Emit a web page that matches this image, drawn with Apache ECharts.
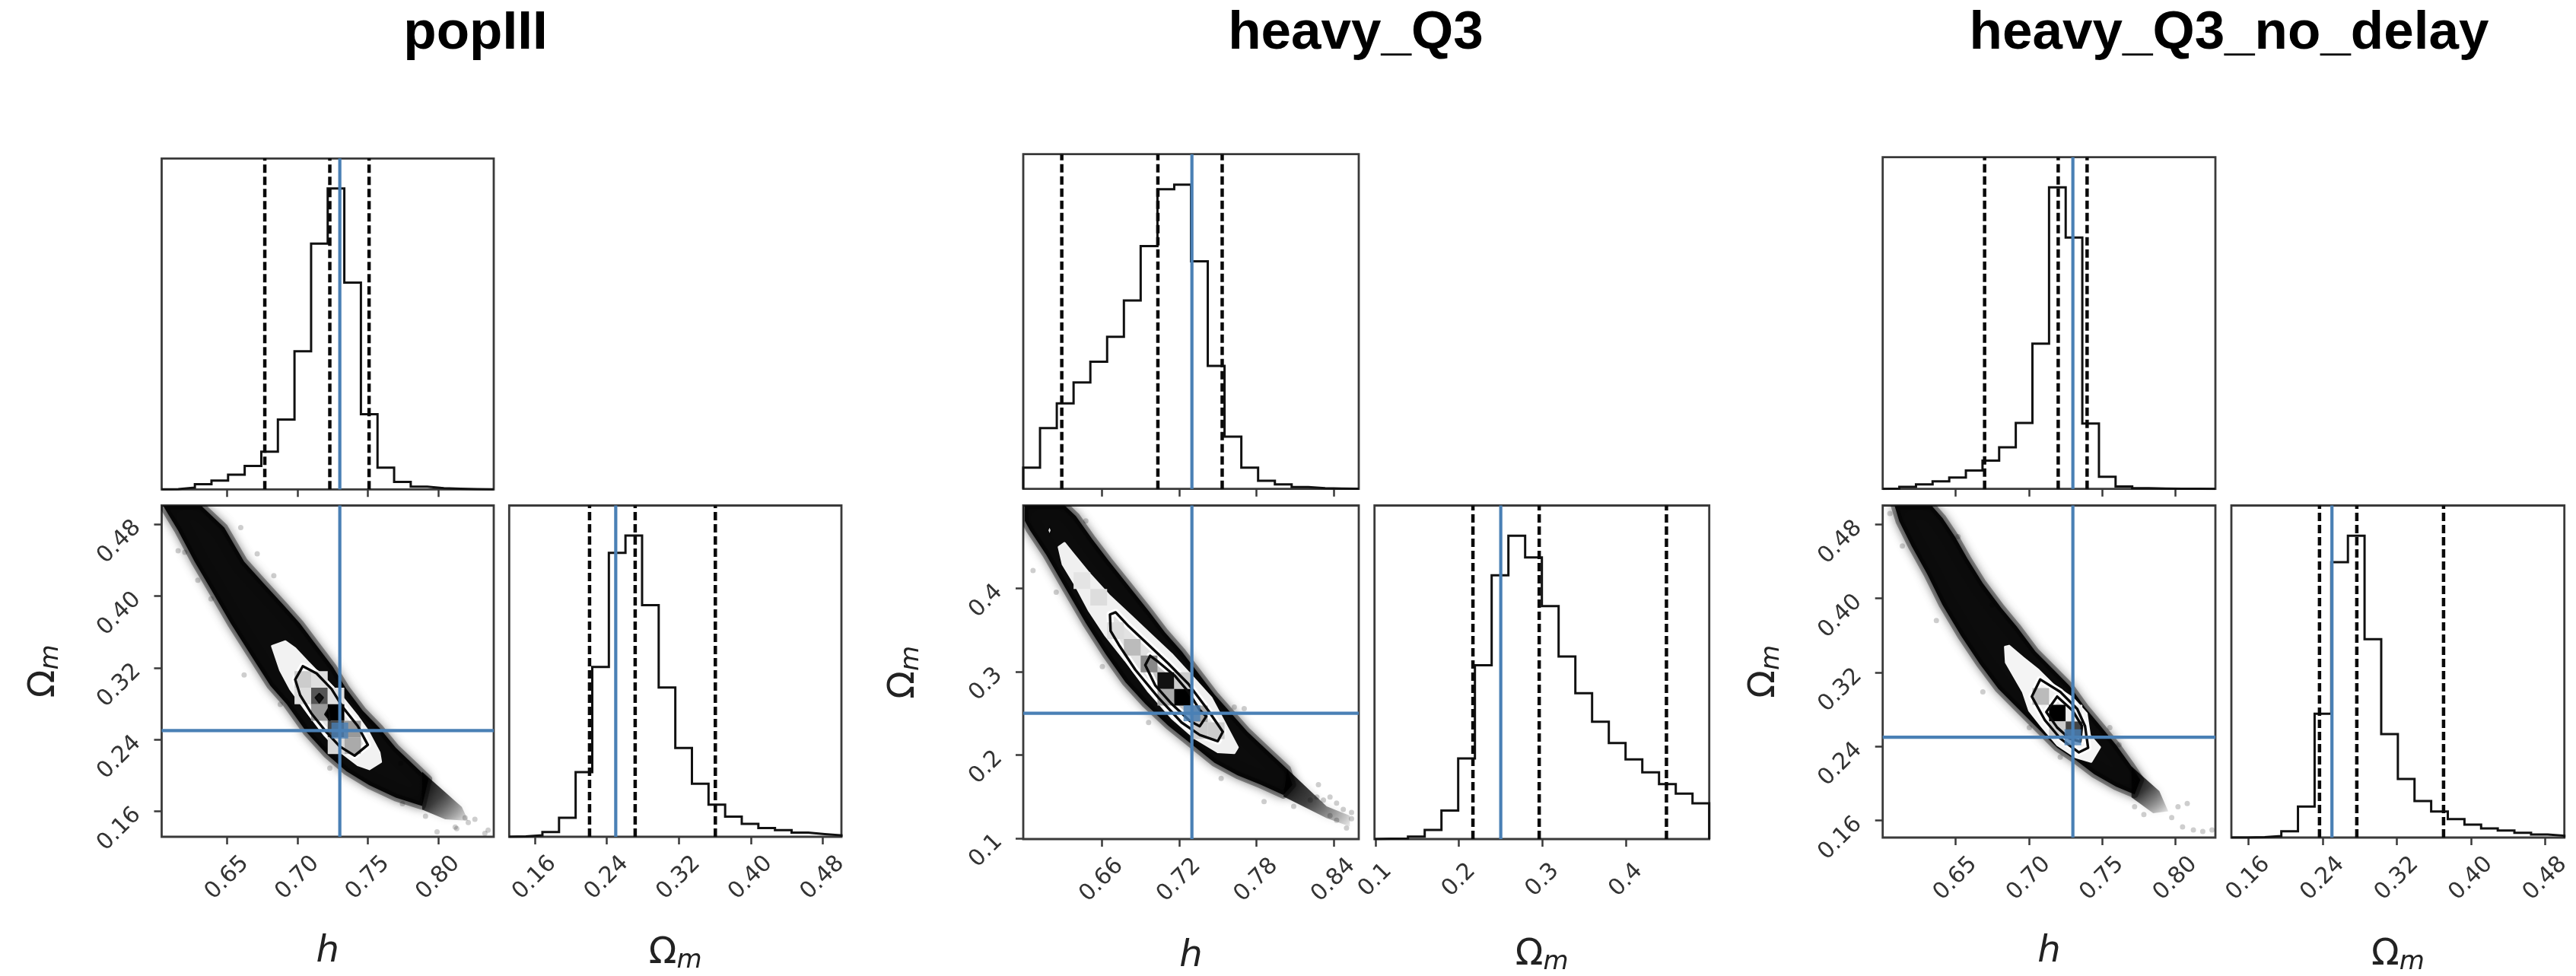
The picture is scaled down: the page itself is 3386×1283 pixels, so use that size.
<!DOCTYPE html>
<html><head><meta charset="utf-8">
<style>html,body{margin:0;padding:0;background:#fff}#c{width:3386px;height:1283px}</style>
<script src="https://cdn.jsdelivr.net/npm/echarts@6/dist/echarts.min.js"></script>
</head><body><div id="c"></div>
<script>
// ---------- data ----------
const titles = ['popIII', 'heavy_Q3', 'heavy_Q3_no_delay'];
const truthH = 0.73, truthOm = 0.25;

const hRange1 = [0.6034, 0.8394], omRange1 = [0.1316, 0.5008];
const hRange2 = [0.5991, 0.8595], omRange2 = [0.0989, 0.4995];
const hRange3 = [0.6003, 0.8272], omRange3 = [0.1416, 0.5005];

const hTicks1 = [0.65, 0.70, 0.75, 0.80], omTicks1 = [0.16, 0.24, 0.32, 0.40, 0.48];
const hTicks2 = [0.66, 0.72, 0.78, 0.84], omTicks2 = [0.1, 0.2, 0.3, 0.4];
const hTicks3 = [0.65, 0.70, 0.75, 0.80], omTicks3 = [0.16, 0.24, 0.32, 0.40, 0.48];

const hHist1 = [0.1,0.6,1.7,2.9,4.9,7.8,12.5,23.2,45.9,81.7,100,68.7,25.0,7.2,2.5,0.9,0.4,0.2,0.05,0];
const omHist1 = [0.1,0.5,1.6,6.3,21.5,56.4,94.3,100,76.9,49.6,29.5,17.6,10.7,6.7,4.3,2.9,2.2,1.4,0.9,0.5];
const hHist2 = [7.0,20.0,28.1,35,41.8,50,61.9,79.8,98.5,100,74.8,40.4,17.2,7.0,2.7,1.5,0.6,0.25,0.1,0.02];
const omHist2 = [0.1,0.2,0.8,3,9.4,26.6,57.3,87,100,92.9,76.8,60.2,48.1,38.7,31.7,26.3,22,18.1,15,11.8];
const hHist3 = [0.1,0.7,1.5,2.5,3.8,6.1,9.4,13.8,21.9,48.2,100,83.4,21.7,4,0.8,0.25,0.1,0.05,0.02,0];
const omHist3 = [0,0.1,0.5,2.1,10.3,41,91.2,100,65.7,34.3,19.4,12.1,8.6,6.1,4.3,3,2.3,1.6,1,0.6];

const hQuant1 = [0.6767, 0.7229, 0.7508], omQuant1 = [0.2209, 0.2716, 0.3607];
const hQuant2 = [0.629, 0.7036, 0.7535],  omQuant2 = [0.2167, 0.296, 0.4483];
const hQuant3 = [0.6698, 0.72, 0.7397],   omQuant3 = [0.2366, 0.2768, 0.3703];

const band1 = [[.6315,.5005],[.6479,.4763],[.6620,.4383],[.6760,.4140],[.6901,.3898],[.7018,.3691],[.7135,.3448],[.7252,.3206],[.7346,.2964],[.7463,.2722],[.7581,.2531],[.7698,.2307],[.7838,.2099],[.7930,.1960],[.7885,.1660],[.7698,.1753],[.7510,.1891],[.7346,.2047],[.7206,.2237],[.7065,.2480],[.6924,.2791],[.6807,.2999],[.6666,.3345],[.6526,.3691],[.6385,.4071],[.6268,.4383],[.6151,.4729],[.6057,.4971],[.6045,.5005]];
const tail1 = [[.7885,.2040],[.8167,.1649],[.8213,.1493],[.8049,.1510],[.7885,.1620]];
const band2 = [[.6311,.4998],[.6400,.4867],[.6528,.4588],[.6656,.4327],[.6810,.4029],[.6964,.3730],[.7092,.3470],[.7220,.3246],[.7348,.2985],[.7476,.2724],[.7604,.2501],[.7732,.2277],[.7886,.2053],[.8040,.1830],[.8080,.1640],[.8010,.1520],[.7834,.1643],[.7655,.1755],[.7476,.1904],[.7297,.2128],[.7117,.2351],[.6938,.2612],[.6784,.2873],[.6631,.3209],[.6477,.3581],[.6323,.3991],[.6170,.4401],[.6042,.4700],[.6003,.4811],[.6003,.4998]];
const tail2 = [[.8040,.1830],[.8346,.1382],[.8526,.1271],[.8526,.1140],[.8346,.1241],[.8010,.1500]];
const band3 = [[.6337,.5003],[.6411,.4869],[.6496,.4668],[.6580,.4433],[.6686,.4164],[.6813,.3896],[.6918,.3695],[.7045,.3426],[.7172,.3225],[.7277,.3057],[.7383,.2823],[.7489,.2621],[.7594,.2420],[.7700,.2185],[.7760,.2040],[.7721,.1883],[.7594,.1967],[.7446,.2101],[.7320,.2252],[.7193,.2387],[.7066,.2588],[.6939,.2789],[.6792,.3024],[.6665,.3292],[.6538,.3594],[.6411,.3930],[.6306,.4265],[.6200,.4567],[.6116,.4835],[.6084,.5003]];
const tail3 = [[.7700,.2185],[.7890,.1917],[.7950,.1700],[.7848,.1680],[.7700,.1850]];

const outer1 = [[.6819,.3441],[.6913,.3493],[.6983,.3414],[.7077,.3258],[.7194,.3068],[.7323,.2860],[.7428,.2653],[.7499,.2497],[.7581,.2255],[.7592,.2151],[.7510,.2071],[.7428,.2116],[.7299,.2272],[.7194,.2445],[.7077,.2687],[.6948,.2964],[.6877,.3172]];
const middle1 = [[.6983,.3068],[.7037,.3217],[.7135,.3137],[.7241,.2964],[.7323,.2756],[.7428,.2549],[.7499,.2341],[.7405,.2220],[.7299,.2324],[.7206,.2480],[.7100,.2687],[.7018,.2895]];
const inner1 = [[.7154,.2912],[.7182,.2867],[.7154,.2808],[.7126,.2867]];
const blob1 = [[.7194,.2680],[.7220,.2749],[.7229,.2611]];

const outer2 = [[.6267,.4495],[.6311,.4543],[.6375,.4420],[.6503,.4178],[.6656,.3917],[.6836,.3656],[.6989,.3432],[.7143,.3209],[.7297,.2948],[.7450,.2687],[.7591,.2277],[.7655,.2091],[.7629,.2024],[.7501,.2035],[.7322,.2202],[.7143,.2445],[.6964,.2761],[.6784,.3134],[.6631,.3432],[.6503,.3730],[.6400,.4029],[.6298,.4290]];
const middle2 = [[.6664,.3686],[.6708,.3712],[.6810,.3544],[.6964,.3321],[.7117,.3097],[.7271,.2855],[.7425,.2538],[.7540,.2277],[.7501,.2165],[.7361,.2240],[.7220,.2389],[.7040,.2687],[.6861,.3022],[.6733,.3321],[.6669,.3488]];
const inner2 = [[.6976,.3190],[.7040,.3116],[.7169,.2948],[.7271,.2761],[.7361,.2538],[.7412,.2463],[.7361,.2344],[.7284,.2407],[.7143,.2612],[.7015,.2836],[.6938,.3078]];
const blob2 = [[.6195,.4750],[.6210,.4697],[.6195,.4640],[.6180,.4697]];

const outer3 = [[.6838,.3477],[.6865,.3487],[.6960,.3359],[.7066,.3225],[.7172,.3057],[.7298,.2923],[.7393,.2756],[.7415,.2521],[.7484,.2393],[.7425,.2236],[.7320,.2286],[.7193,.2420],[.7087,.2621],[.7003,.2789],[.6960,.2990],[.6844,.3309]];
const middle3 = [[.7077,.3125],[.7214,.2990],[.7330,.2806],[.7383,.2621],[.7404,.2387],[.7341,.2336],[.7214,.2487],[.7108,.2688],[.7020,.2940]];
const inner3 = [[.7193,.2940],[.7298,.2789],[.7362,.2621],[.7351,.2454],[.7277,.2487],[.7193,.2605],[.7119,.2772]];

// [h bin, Omega bin, grey level] of the visible 2D histogram cells (20 x 20 bins)
const cells1 = [[8,9,204],[9,9,223],[9,8,85],[10,8,224],[8,8,221],[9,7,153],[10,7,0],[10,6,68],[11,6,153],[11,5,170],[10,5,216]];
const cells2 = [[3,15,228],[4,14,221],[5,12,221],[6,11,187],[7,10,136],[8,9,17],[9,9,204],[8,8,170],[9,8,0],[10,7,170],[10,6,204],[11,6,204]];
const cells3 = [[9,8,187],[10,7,0],[10,6,204],[11,6,68],[11,7,238]];

const strays1 = [[.8120,.1424],[.8131,.1407],[.8260,.1511],[.8354,.1390],[.8331,.1355],[.7991,.1372],[.8190,.1528],[.8213,.1476],[.7909,.1545],[.7745,.1684],[.7229,.2082],[.6877,.2791],[.6620,.3120],[.6385,.3967],[.6291,.4175],[.6198,.4486],[.6151,.4504],[.6596,.4763],[.6713,.4469],[.6831,.4227],[.7733,.2134]];
const strays2 = [[.8282,.1643],[.8539,.1308],[.8500,.1122],[.8423,.1420],[.8372,.1494],[.7860,.1438],[.7629,.2575],[.7706,.2556],[.7527,.1718],[.6964,.2389],[.6605,.3060],[.6247,.3954],[.6067,.4215],[.6477,.4811],[.8090,.1382],[.8270,.1494],[.8321,.1457],[.8475,.1345],[.8539,.1233],[.8423,.1215],[.8372,.1271],[.8219,.1457]];
const strays3 = [[.8017,.1749],[.8080,.1783],[.7974,.1632],[.8048,.1531],[.8122,.1498],[.8186,.1481],[.8249,.1498],[.7784,.1665],[.7721,.1749],[.7552,.2605],[.7615,.2420],[.7003,.2605],[.6686,.2990],[.6369,.3762],[.6137,.4567],[.6052,.4919],[.6517,.4668],[.6749,.3930],[.7214,.2286]];

// ---------- layout and styles ----------
const BLUE = '#4a80b5', FRAME = '#3a3a3a', TXT = '#333';
const FONT = '"DejaVu Sans"';
const frames = [
  {top:[212.5,208.3,436.5,435], main:[212.5,664.5,436.5,435.5], right:[669.3,664.5,436.7,435.5], titleX:620, hGap:152, omGap:154, rGap:154},
  {top:[1345,202.7,441,440], main:[1345,664.5,441,438.5], right:[1806.7,664.5,440,438.5], titleX:1777, hGap:155, omGap:156, rGap:153},
  {top:[2474.7,206.7,437.3,436], main:[2474.7,664.5,437.3,436.5], right:[2933,664.5,437.7,436.5], titleX:2925, hGap:151, omGap:155, rGap:155}
];
const panels = [
 {h:hRange1,om:omRange1,hT:hTicks1,omT:omTicks1,d:2,rd:2,hH:hHist1,oH:omHist1,hQ:hQuant1,oQ:omQuant1,band:band1,tail:tail1,strays:strays1,cells:cells1,
  contours:[[outer1,'#f2f2f2',1],[middle1,'#e4e4e4',2],[inner1,'#111',0],[blob1,'#000',0]]},
 {h:hRange2,om:omRange2,hT:hTicks2,omT:omTicks2,d:2,rd:1,hH:hHist2,oH:omHist2,hQ:hQuant2,oQ:omQuant2,band:band2,tail:tail2,strays:strays2,cells:cells2,
  contours:[[outer2,'#f0f0f0',1],[middle2,'#e2e2e2',2],[inner2,'#c8c8c8',2],[blob2,'#ddd',0]]},
 {h:hRange3,om:omRange3,hT:hTicks3,omT:omTicks3,d:2,rd:2,hH:hHist3,oH:omHist3,hQ:hQuant3,oQ:omQuant3,band:band3,tail:tail3,strays:strays3,cells:cells3,
  contours:[[outer3,'#f4f4f4',1],[middle3,'#f2f2f2',2],[inner3,'#dedede',2]]}
];

const grid=[], xAxis=[], yAxis=[], series=[], title=[];
const tick = {show:true, length:10, lineStyle:{color:FRAME,width:2.5}};
const OM_NAME = '{o|Ω}{m|m}';
const nameRich = {o:{fontFamily:FONT,fontSize:48,color:'#222'}, m:{fontFamily:FONT,fontStyle:'italic',fontSize:34,color:'#222',verticalAlign:'bottom',padding:[18,0,0,0]}};

function addGrid(r){
  grid.push({left:r[0],top:r[1],width:r[2],height:r[3],show:true,borderColor:FRAME,borderWidth:2.8,backgroundColor:'transparent',containLabel:false});
  return grid.length-1;
}
function xa(g,range,ticks,digits,labels,name,gap){
  xAxis.push({type:'value',gridIndex:g,min:range[0],max:range[1],scale:true,splitLine:{show:false},axisLine:{show:false},
    axisTick:Object.assign({customValues:ticks},tick),
    axisLabel:{show:labels,customValues:ticks,rotate:45,align:'center',verticalAlign:'middle',margin:54,fontSize:30,fontFamily:FONT,color:TXT,formatter:v=>(+v).toFixed(digits)},
    name:name||'',nameLocation:'middle',nameGap:gap||0,
    nameTextStyle:{fontFamily:FONT,fontStyle:name==='h'?'italic':'normal',fontSize:48,color:'#222',align:'center',verticalAlign:'middle',rich:nameRich}});
  return xAxis.length-1;
}
function ya(g,range,ticks,digits,name,gap){
  const vis=!!ticks;
  yAxis.push({type:'value',gridIndex:g,min:range[0],max:range[1],scale:true,splitLine:{show:false},axisLine:{show:false},
    axisTick:vis?Object.assign({customValues:ticks},tick):{show:false},
    axisLabel:vis?{show:true,customValues:ticks,rotate:45,align:'right',verticalAlign:'middle',margin:32,fontSize:30,fontFamily:FONT,color:TXT,formatter:v=>(+v).toFixed(digits)}:{show:false},
    name:name||'',nameLocation:'middle',nameGap:gap||0,
    nameTextStyle:{fontFamily:FONT,fontSize:48,color:'#222',align:'center',verticalAlign:'middle',rich:nameRich}});
  return yAxis.length-1;
}
function lineS(x,y,data,color,width,type,z){
  series.push({type:'line',xAxisIndex:x,yAxisIndex:y,data,showSymbol:false,symbol:'none',silent:true,clip:true,animation:false,z,
    lineStyle:{color,width,type:type||'solid',cap:'butt',join:'miter'}});
}
function polyS(x,y,pts,style,z){
  series.push({type:'custom',xAxisIndex:x,yAxisIndex:y,data:pts,clip:true,silent:true,animation:false,z,
    renderItem:(p,api)=>p.dataIndex===0?{type:'polygon',shape:{points:pts.map(q=>api.coord(q))},style}:null});
}
function hist(x,y,values,range){
  const n=values.length, w=(range[1]-range[0])/n, d=[];
  d.push([range[0],0]);
  values.forEach((v,i)=>{d.push([range[0]+i*w,v]);d.push([range[0]+(i+1)*w,v]);});
  d.push([range[1],0]);
  lineS(x,y,d,'#111',3,'solid',5);
}
function vlines(x,y,quants,truth){
  quants.forEach(q=>lineS(x,y,[[q,0],[q,110]],'#0a0a0a',4.5,[11,5],6));
  lineS(x,y,[[truth,0],[truth,110]],BLUE,4.2,'solid',7);
}

panels.forEach((P,i)=>{
  const F=frames[i];
  title.push({text:titles[i],left:F.titleX,top:4,textAlign:'center',textStyle:{fontFamily:'"Liberation Sans"',fontWeight:'bold',fontSize:71,color:'#000'}});

  // top histogram
  let g=addGrid(F.top), x=xa(g,P.h,P.hT,P.d,false), y=ya(g,[0,110]);
  hist(x,y,P.hH,P.h); vlines(x,y,P.hQ,truthH);

  // 2D panel
  g=addGrid(F.main); x=xa(g,P.h,P.hT,P.d,true,'h',F.hGap); y=ya(g,P.om,P.omT,P.rd,OM_NAME,F.omGap);
  polyS(x,y,P.band,{fill:'#0c0c0c',stroke:'rgba(0,0,0,0.38)',lineWidth:10,shadowBlur:14,shadowColor:'rgba(0,0,0,0.6)',lineJoin:'round'},2);
  polyS(x,y,P.tail,{fill:new echarts.graphic.LinearGradient(0,0,1,1,[{offset:0,color:'rgba(0,0,0,0.95)'},{offset:0.45,color:'rgba(0,0,0,0.7)'},{offset:1,color:'rgba(0,0,0,0.08)'}]),shadowBlur:8,shadowColor:'rgba(0,0,0,0.25)',lineJoin:'round'},2);
  series.push({type:'scatter',xAxisIndex:x,yAxisIndex:y,data:P.strays,symbolSize:7,silent:true,animation:false,z:2,itemStyle:{color:'rgba(0,0,0,0.24)'}});
  const cw=(P.h[1]-P.h[0])/20, ch=(P.om[1]-P.om[0])/20;
  P.contours.forEach(c=>{ if(c[2]) polyS(x,y,c[0],{fill:c[1],stroke:c[2]===2?'#fff':c[1],lineWidth:c[2]===2?9:3,lineJoin:'round'},3); });
  series.push({type:'custom',xAxisIndex:x,yAxisIndex:y,data:P.cells,clip:true,silent:true,animation:false,z:4,
    encode:{x:0,y:1},
    renderItem:(p,api)=>{
      const c=P.cells[p.dataIndex], a=api.coord([P.h[0]+c[0]*cw,P.om[0]+(c[1]+1)*ch]), b=api.coord([P.h[0]+(c[0]+1)*cw,P.om[0]+c[1]*ch]);
      return {type:'rect',shape:{x:a[0],y:a[1],width:b[0]-a[0],height:b[1]-a[1]},style:{fill:`rgb(${c[2]},${c[2]},${c[2]})`}};
    }});
  P.contours.forEach(c=>{
    if(c[2]===1) return; // the outermost contour is black on the black band
    polyS(x,y,c[0],{fill:c[2]?'none':c[1],stroke:'#0a0a0a',lineWidth:c[2]?3.4:2,lineJoin:'round'},5);
  });
  lineS(x,y,[[truthH,P.om[0]],[truthH,P.om[1]]],BLUE,4.2,'solid',7);
  lineS(x,y,[[P.h[0],truthOm],[P.h[1],truthOm]],BLUE,4.2,'solid',7);
  series.push({type:'scatter',xAxisIndex:x,yAxisIndex:y,data:[[truthH,truthOm]],symbol:'rect',symbolSize:[22,21],silent:true,animation:false,z:8,itemStyle:{color:BLUE}});

  // right histogram
  g=addGrid(F.right); x=xa(g,P.om,P.omT,P.rd,true,OM_NAME,F.rGap); y=ya(g,[0,110]);
  hist(x,y,P.oH,P.om); vlines(x,y,P.oQ,truthOm);
});

const chart=echarts.init(document.getElementById('c'),null,{renderer:'canvas'});
chart.setOption({backgroundColor:'#fff',animation:false,tooltip:{show:false},title,grid,xAxis,yAxis,series});
</script></body></html>
